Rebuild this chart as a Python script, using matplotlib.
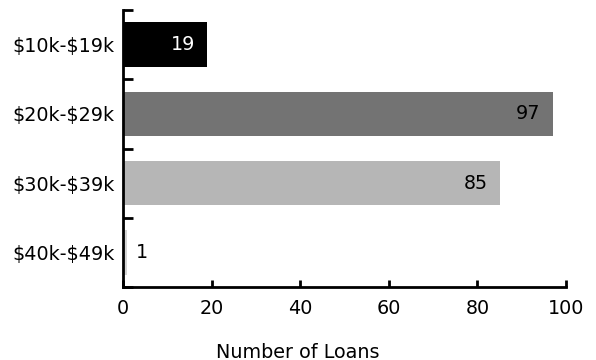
import matplotlib
matplotlib.use("Agg")
import matplotlib.pyplot as plt
import numpy as np

categories = ["\\$10k-\\$19k", "\\$20k-\\$29k", "\\$30k-\\$39k", "\\$40k-\\$49k"]
loans = [19, 97, 85, 1]
colors = ["#000000", "#737373", "#b6b6b6", "#d4d4d4"]
label_colors = ["white", "black", "black", "black"]
x_ticks = [0, 20, 40, 60, 80, 100]

plt.rcParams["font.family"] = ["DejaVu Sans"]
fs = 13.8

fig = plt.figure(figsize=(5.96, 3.6), dpi=100)
ax = fig.add_axes([123 / 596, 1 - 287 / 360, (566 - 123) / 596, (287 - 10) / 360])

y = np.arange(len(categories))
ax.barh(y, loans, height=0.64, color=colors, zorder=1)

for i, v in enumerate(loans):
    if v > 5:
        ax.annotate(str(v), (v, i), xytext=(-12, 0), textcoords="offset pixels",
                    ha="right", va="center", fontsize=fs, color=label_colors[i])
    else:
        ax.annotate(str(v), (v, i), xytext=(8, 0), textcoords="offset pixels",
                    ha="left", va="center", fontsize=fs, color=label_colors[i])

ax.set_xlim(0, 100)
ax.set_ylim(len(categories) - 0.5, -0.5)
ax.set_xticks(x_ticks)
ax.set_xticklabels([str(t) for t in x_ticks], fontsize=fs)

# category labels centred in bands, ticks at band edges
ax.set_yticks(y)
ax.set_yticklabels(categories, fontsize=fs)
ax.tick_params(axis="y", length=0, pad=6)
ax.set_yticks(np.arange(-0.5, len(categories), 1.0), minor=True)
ax.tick_params(axis="y", which="minor", direction="in", length=7, width=2)
ax.tick_params(axis="x", direction="in", length=5, width=2, pad=9)

for s in ["top", "right"]:
    ax.spines[s].set_visible(False)
for s in ["left", "bottom"]:
    ax.spines[s].set_linewidth(2)

fig.text(0.5, 1 - 352 / 360, "Number of Loans", ha="center", va="center", fontsize=fs)

fig.savefig("out.png", dpi=100)
